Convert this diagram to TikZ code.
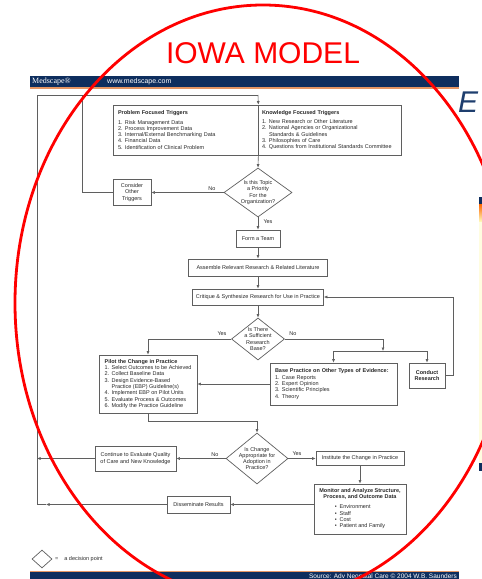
\documentclass[tikz,border=0pt]{standalone}
\usepackage{fontspec}
\setmainfont{Liberation Sans}
\newfontfamily\medserif{Liberation Serif}
\usetikzlibrary{arrows.meta,shapes.geometric,positioning,calc}
\definecolor{medblue}{RGB}{14,46,94}
\definecolor{medorange}{RGB}{229,150,100}
\definecolor{linegray}{RGB}{95,95,95}
\definecolor{txtgray}{RGB}{40,40,40}
\definecolor{slideblue}{RGB}{30,62,110}
\newcommand{\flowfont}{\fontsize{5.5}{6.3}\selectfont}
\newcommand{\itemno}[1]{\makebox[7pt][l]{#1.}}
\tikzset{
  flow/.style={draw=linegray, line width=0.6pt},
  arr/.style={flow, -{Latex[length=3.5pt,width=3pt]}},
  box/.style={draw=linegray, line width=0.7pt, fill=white, inner sep=0pt, align=center, text=txtgray, font=\flowfont},
  lbox/.style={box, align=left, inner xsep=5pt},
  choice/.style={diamond, draw=linegray, line width=0.7pt, fill=white, inner sep=-6pt, align=center, text=txtgray, font=\flowfont},
  ans/.style={text=txtgray, font=\flowfont, inner sep=0pt},
  banner/.style={text=white, inner sep=0pt, font=\fontsize{7}{7}\selectfont},
}
\begin{document}
\begin{tikzpicture}[x=1pt,y=-1pt]
\useasboundingbox (0,0) rectangle (482,579);
% Medscape frame
\fill[medblue] (30,76) rectangle (459,87);
\fill[medorange] (30,87) rectangle (459,88.5);
\fill[medorange] (30,570.5) rectangle (459,572);
\fill[medblue] (30,572) rectangle (459,579);
\node[banner, anchor=west, font=\medserif\fontsize{8}{8}\selectfont] (logo) at (32,81.5) {Medscape®};
\node[banner, anchor=west] (url) at (107,81.5) {www.medscape.com};
\node[banner, anchor=east, font=\fontsize{6.5}{7}\selectfont] (source) at (457,576) {Source: Adv Neonatal Care © 2004 W.B. Saunders};
% next slide behind
\node[anchor=base west, text=slideblue, font=\fontsize{30}{30}\selectfont\itshape, inner sep=0pt] (slideE) at (458,112) {E};
\fill[medblue] (479,197) rectangle (482,204);
\shade[top color=orange!80!red, bottom color=yellow!25] (479,204) rectangle (482,222);
\fill[yellow!12] (479,222) rectangle (482,463);
\fill[medblue] (479,463) rectangle (482,471);
% triggers
\node[lbox, minimum width=145pt, text width=135pt, minimum height=50pt] (probtrig) at (185.5,130)
  {\textbf{Problem Focused Triggers}\\[3pt]
   \itemno{1}Risk Management Data\\
   \itemno{2}Process Improvement Data\\
   \itemno{3}Internal/External Benchmarking Data\\
   \itemno{4}Financial Data\\
   \itemno{5}Identification of Clinical Problem};
\node[lbox, inner xsep=4pt, minimum width=143pt, text width=135pt, minimum height=50pt] (knowtrig) at (329.5,130)
  {\textbf{Knowledge Focused Triggers}\\[3pt]
   \itemno{1}New Research or Other Literature\\
   \itemno{2}National Agencies or Organizational\\
   \hspace*{7pt}Standards \& Guidelines\\
   \itemno{3}Philosophies of Care\\
   \itemno{4}Questions from Institutional Standards Committee};
\node[choice, minimum width=68pt, minimum height=49pt] (prio) at (258,192.5) {Is this Topic\\ a Priority\\ For the\\ Organization?};
\node[box, minimum width=38pt, minimum height=26pt] (consider) at (132,192.5) {Consider\\ Other\\ Triggers};
\node[box, minimum width=44pt, minimum height=17pt] (form) at (258,238.5) {Form a Team};
\node[box, minimum width=139pt, minimum height=17pt] (assemble) at (258,267.5) {Assemble Relevant Research \& Related Literature};
\node[box, minimum width=131pt, minimum height=16pt] (critique) at (258,297) {Critique \& Synthesize Research for Use in Practice};
\node[choice, minimum width=53pt, minimum height=42pt] (suff) at (258,339) {Is There\\ a Sufficient\\ Research\\ Base?};
\node[box, align=left, minimum width=98pt, minimum height=58pt] (pilot) at (148,384)
  {\textbf{Pilot the Change in Practice}\\
   \itemno{1}Select Outcomes to be Achieved\\
   \itemno{2}Collect Baseline Data\\
   \itemno{3}Design Evidence-Based\\
   \hspace*{7pt}Practice (EBP) Guideline(s)\\
   \itemno{4}Implement EBP on Pilot Units\\
   \itemno{5}Evaluate Process \& Outcomes\\
   \itemno{6}Modify the Practice Guideline};
\node[lbox, minimum width=127pt, text width=117pt, minimum height=42pt] (base) at (333.5,384)
  {\textbf{Base Practice on Other Types of Evidence:}\\
   \itemno{1}Case Reports\\
   \itemno{2}Expert Opinion\\
   \itemno{3}Scientific Principles\\
   \itemno{4}Theory};
\node[box, minimum width=36pt, minimum height=25pt] (conduct) at (427,375.5) {\textbf{Conduct}\\ \textbf{Research}};
\node[choice, minimum width=62pt, minimum height=51pt] (adopt) at (257,458.5) {Is Change\\ Appropriate for\\ Adoption in\\ Practice?};
\node[box, minimum width=81pt, minimum height=25pt] (continue) at (135.5,458.5) {Continue to Evaluate Quality\\ of Care and New Knowledge};
\node[box, minimum width=88pt, minimum height=14pt] (institute) at (360,458.5) {Institute the Change in Practice};
\node[box, minimum width=92pt, minimum height=50pt] (monitor) at (360,509)
  {\textbf{Monitor and Analyze Structure,}\\ \textbf{Process, and Outcome Data}\\[4pt]
   \begin{tabular}{@{}l@{}}•\hspace{3pt}Environment\\ •\hspace{3pt}Staff\\ •\hspace{3pt}Cost\\ •\hspace{3pt}Patient and Family\end{tabular}};
\node[box, minimum width=63pt, minimum height=17pt] (dissem) at (198.5,504.5) {Disseminate Results};
% corners of the connectors
\coordinate (loopbl) at (37,504.5);
\coordinate (looptl) at (37,95);
\coordinate (looptop) at (258,95);
\coordinate (consjoin) at (82,95);
\coordinate (loopcont) at (37,458.5);
\coordinate (loopdis) at (46,504.5);
\coordinate (pilotjoin) at (257,421);
\coordinate (nosplit) at (383,351);
\coordinate (splitl) at (333.5,351);
\coordinate (splitr) at (427,351);
\coordinate (condturn) at (453,297);
% connectors
\draw[flow] (loopdis) -- (loopbl) -- (looptl) -- (looptop);
\draw[arr] (looptop) -- (probtrig.north east);
\draw[arr] (probtrig.south east) -- (prio.north);
\draw[arr] (prio.west) -- (consider.east);
\draw[flow] (consider.west) -| (consjoin);
\draw[arr] (prio.south) -- (form.north);
\draw[arr] (form.south) -- (assemble.north);
\draw[arr] (assemble.south) -- (critique.north);
\draw[arr] (critique.south) -- (suff.north);
\draw[arr] (suff.west) -| (pilot.north);
\draw[arr] (suff.east) -| (nosplit);
\draw[flow] (splitl) -- (splitr);
\draw[arr] (splitl) -- (base.north);
\draw[arr] (splitr) -- (conduct.north);
\draw[arr] (conduct.east) -| (condturn) -- (critique.east);
\draw[arr] (base.west) -- (pilot.east);
\draw[arr] (pilot.south) |- (pilotjoin) -- (adopt.north);
\draw[arr] (adopt.west) -- (continue.east);
\draw[arr] (continue.west) -- (loopcont);
\draw[arr] (adopt.east) -- (institute.west);
\draw[arr] (institute.south) -- (monitor.north);
\draw[arr] (monitor.west |- dissem.east) -- (dissem.east);
\draw[arr] (dissem.west) -- (loopdis);
% answers
\node[ans] (noprio) at (212,189) {No};
\node[ans] (yesprio) at (268,222) {Yes};
\node[ans] (yessuff) at (222,334) {Yes};
\node[ans] (nosuff) at (293,334) {No};
\node[ans] (noadopt) at (215,455) {No};
\node[ans] (yesadopt) at (297,454) {Yes};
% legend
\node[choice, inner sep=0pt, minimum width=20pt, minimum height=18pt] (legdia) at (42,559) {};
\node[ans, anchor=west] (legtxt) at (55,559) {=\hspace{6pt}a decision point};
% slide title and circle
\node[text=red, font=\fontsize{30}{30}\selectfont, inner sep=0pt, anchor=base] (title) at (263,63) {IOWA MODEL};
\draw[red, line width=2.8pt] (263,303) ellipse [x radius=248pt, y radius=298pt];
\end{tikzpicture}
\end{document}
